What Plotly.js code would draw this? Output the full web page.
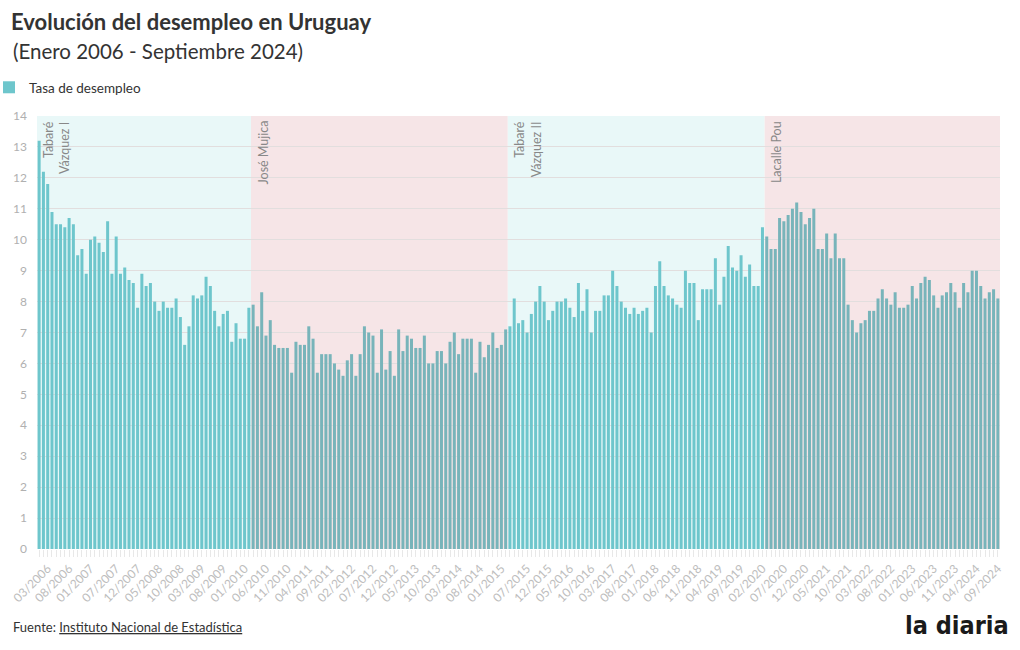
<!DOCTYPE html>
<html><head><meta charset="utf-8">
<script src="https://cdn.plot.ly/plotly-3.0.1.min.js"></script>
<style>html,body{margin:0;padding:0;background:#fff}#chart{width:1020px;height:650px}</style>
</head><body><div id="chart"></div>
<script>
// Monthly categories, January 2006 - September 2024
const months = [
  "01/2006","02/2006","03/2006","04/2006","05/2006","06/2006","07/2006","08/2006","09/2006","10/2006","11/2006","12/2006",
  "01/2007","02/2007","03/2007","04/2007","05/2007","06/2007","07/2007","08/2007","09/2007","10/2007","11/2007","12/2007",
  "01/2008","02/2008","03/2008","04/2008","05/2008","06/2008","07/2008","08/2008","09/2008","10/2008","11/2008","12/2008",
  "01/2009","02/2009","03/2009","04/2009","05/2009","06/2009","07/2009","08/2009","09/2009","10/2009","11/2009","12/2009",
  "01/2010","02/2010","03/2010","04/2010","05/2010","06/2010","07/2010","08/2010","09/2010","10/2010","11/2010","12/2010",
  "01/2011","02/2011","03/2011","04/2011","05/2011","06/2011","07/2011","08/2011","09/2011","10/2011","11/2011","12/2011",
  "01/2012","02/2012","03/2012","04/2012","05/2012","06/2012","07/2012","08/2012","09/2012","10/2012","11/2012","12/2012",
  "01/2013","02/2013","03/2013","04/2013","05/2013","06/2013","07/2013","08/2013","09/2013","10/2013","11/2013","12/2013",
  "01/2014","02/2014","03/2014","04/2014","05/2014","06/2014","07/2014","08/2014","09/2014","10/2014","11/2014","12/2014",
  "01/2015","02/2015","03/2015","04/2015","05/2015","06/2015","07/2015","08/2015","09/2015","10/2015","11/2015","12/2015",
  "01/2016","02/2016","03/2016","04/2016","05/2016","06/2016","07/2016","08/2016","09/2016","10/2016","11/2016","12/2016",
  "01/2017","02/2017","03/2017","04/2017","05/2017","06/2017","07/2017","08/2017","09/2017","10/2017","11/2017","12/2017",
  "01/2018","02/2018","03/2018","04/2018","05/2018","06/2018","07/2018","08/2018","09/2018","10/2018","11/2018","12/2018",
  "01/2019","02/2019","03/2019","04/2019","05/2019","06/2019","07/2019","08/2019","09/2019","10/2019","11/2019","12/2019",
  "01/2020","02/2020","03/2020","04/2020","05/2020","06/2020","07/2020","08/2020","09/2020","10/2020","11/2020","12/2020",
  "01/2021","02/2021","03/2021","04/2021","05/2021","06/2021","07/2021","08/2021","09/2021","10/2021","11/2021","12/2021",
  "01/2022","02/2022","03/2022","04/2022","05/2022","06/2022","07/2022","08/2022","09/2022","10/2022","11/2022","12/2022",
  "01/2023","02/2023","03/2023","04/2023","05/2023","06/2023","07/2023","08/2023","09/2023","10/2023","11/2023","12/2023",
  "01/2024","02/2024","03/2024","04/2024","05/2024","06/2024","07/2024","08/2024","09/2024"
];

// Tasa de desempleo (%)
const unemployment = [
  13.2,12.2,11.8,10.9,10.5,10.5,10.4,10.7,10.5,9.5,9.7,8.9,
  10.0,10.1,9.9,9.6,10.6,8.9,10.1,8.9,9.1,8.7,8.6,7.8,
  8.9,8.5,8.6,8.0,7.7,8.0,7.8,7.8,8.1,7.5,6.6,7.2,
  8.2,8.1,8.2,8.8,8.5,7.7,7.2,7.6,7.7,6.7,7.3,6.8,
  6.8,7.8,7.9,7.2,8.3,6.9,7.4,6.6,6.5,6.5,6.5,5.7,
  6.7,6.6,6.6,7.2,6.8,5.7,6.3,6.3,6.3,6.0,5.8,5.6,
  6.1,6.3,5.6,6.3,7.2,7.0,6.9,5.7,7.1,5.8,6.4,5.6,
  7.1,6.4,6.9,6.8,6.5,6.5,6.9,6.0,6.0,6.4,6.4,6.0,
  6.7,7.0,6.3,6.8,6.8,6.8,5.7,6.7,6.2,6.6,7.0,6.5,
  6.6,7.1,7.2,8.1,7.3,7.4,7.0,7.6,8.0,8.5,8.0,7.4,
  7.7,8.0,8.0,8.1,7.8,7.5,8.6,7.7,8.4,7.0,7.7,7.7,
  8.2,8.2,9.0,8.5,8.0,7.8,7.6,7.8,7.6,7.7,7.8,7.0,
  8.5,9.3,8.5,8.2,8.1,7.9,7.8,9.0,8.6,8.6,7.4,8.4,
  8.4,8.4,9.4,7.9,8.8,9.8,9.1,9.0,9.5,8.8,9.2,8.5,
  8.5,10.4,10.1,9.7,9.7,10.7,10.6,10.8,11.0,11.2,10.9,10.5,
  10.7,11.0,9.7,9.7,10.2,9.4,10.2,9.4,9.4,7.9,7.4,7.0,
  7.3,7.4,7.7,7.7,8.1,8.4,8.1,7.9,8.3,7.8,7.8,7.9,
  8.5,8.1,8.6,8.8,8.7,8.2,7.8,8.2,8.3,8.6,8.3,7.8,
  8.6,8.3,9.0,9.0,8.5,8.1,8.3,8.4,8.1
];

// Labelled ticks on the x axis
const tickLabels = [
  "03/2006","08/2006","01/2007","07/2007","12/2007","05/2008","10/2008","03/2009","08/2009","01/2010",
  "06/2010","11/2010","04/2011","09/2011","02/2012","07/2012","12/2012","05/2013","10/2013","03/2014",
  "08/2014","01/2015","07/2015","12/2015","05/2016","10/2016","03/2017","08/2017","01/2018","06/2018",
  "11/2018","04/2019","09/2019","02/2020","07/2020","12/2020","05/2021","10/2021","03/2022","08/2022",
  "01/2023","06/2023","11/2023","04/2024","09/2024"
];

// Government periods
const periodLabels = ["Tabaré<br>Vázquez I", "José Mujica", "Tabaré<br>Vázquez II", "Lacalle Pou"];
const periodStart  = ["01/2006", "03/2010", "03/2015", "03/2020"];
const periodEnd    = ["02/2010", "02/2015", "02/2020", "09/2024"];

// Texts
const titleText = "Evolución del desempleo en Uruguay";
const subtitleText = "(Enero 2006 - Septiembre 2024)";
const sourceText = "Fuente: <span style=\"text-decoration:underline\">Instituto Nacional de Estadística</span>";
const logoText = "la diaria";

// Styles
const FONT = "Lato, 'Source Sans Pro', 'Noto Sans', sans-serif";
const periodBg  = ["#e9f8f8", "#f6e5e7", "#e9f8f8", "#f6e5e7"];
const periodBar = ["#6ec6cc", "#78b4ba", "#6ec6cc", "#78b4ba"];

const idx = m => months.indexOf(m);
const periodOf = i => periodStart.findIndex((s, p) => i >= idx(s) && i <= idx(periodEnd[p]));
const barColors = months.map((m, i) => periodBar[periodOf(i)]);

const trace = {
  type: "bar",
  x: months,
  y: unemployment,
  name: "Tasa de desempleo",
  marker: { color: barColors, line: { width: 0 } },
  hovertemplate: "%{x}: %{y:.1f}%<extra></extra>"
};

const shapes = periodStart.map((s, p) => ({
  type: "rect", layer: "between",
  xref: "x", yref: "paper",
  x0: idx(s) - 0.5, x1: idx(periodEnd[p]) + 0.5,
  y0: 0, y1: 1,
  fillcolor: periodBg[p], line: { width: 0 }
}));

const annotations = periodStart.map((s, p) => ({
  xref: "x", yref: "paper",
  x: idx(s) - 0.5, y: 1,
  xanchor: "left", yanchor: "top",
  xshift: 2, yshift: -3,
  text: periodLabels[p],
  textangle: -90, align: "right",
  showarrow: false,
  font: { family: FONT, size: 12.5, color: "#888" }
}));

annotations.push({
  xref: "paper", yref: "paper",
  x: (11 - 37) / 963, y: (549 - 51) / 433,
  xanchor: "left", yanchor: "middle",
  text: subtitleText,
  showarrow: false,
  font: { family: FONT, size: 20.5, color: "#333" }
});
annotations.push({
  xref: "paper", yref: "paper",
  x: (11 - 37) / 963, y: (549 - 627) / 433,
  xanchor: "left", yanchor: "middle",
  text: sourceText,
  showarrow: false,
  font: { family: FONT, size: 13, color: "#333" }
});
annotations.push({
  xref: "paper", yref: "paper",
  x: (1011 - 37) / 963, y: (549 - 625) / 433,
  xanchor: "right", yanchor: "middle",
  text: "<b>" + logoText + "</b>",
  showarrow: false,
  font: { family: "'Liberation Sans Narrow', 'DejaVu Sans Condensed', sans-serif", size: 25, color: "#1a1a1a" }
});

const layout = {
  width: 1020, height: 650,
  margin: { l: 37, r: 20, t: 116, b: 101, pad: 0, autoexpand: false },
  paper_bgcolor: "#ffffff", plot_bgcolor: "#ffffff",
  font: { family: FONT, color: "#333" },
  title: {
    text: "<b>" + titleText + "</b>",
    xref: "container", yref: "container",
    x: 11 / 1020, xanchor: "left",
    y: 1 - 15 / 650, yanchor: "top",
    font: { family: FONT, size: 22, color: "#333" }
  },
  bargap: 0.3,
  showlegend: true,
  legend: {
    orientation: "h",
    xref: "paper", yref: "paper",
    x: (-11 - 37) / 963, xanchor: "left",
    y: (549 - 72) / 433, yanchor: "top",
    font: { family: FONT, size: 13.5, color: "#333" },
    bgcolor: "rgba(0,0,0,0)"
  },
  xaxis: {
    type: "category",
    tickmode: "array",
    tickvals: months,
    ticktext: months.map(m => tickLabels.includes(m) ? m : ""),
    tickangle: -45,
    ticks: "outside", ticklen: 7, tickcolor: "#e8e8e8", tickwidth: 1,
    tickfont: { family: FONT, size: 12, color: "#bdbdbd" },
    showgrid: false, showline: false, zeroline: false, fixedrange: true
  },
  yaxis: {
    range: [0, 14], tick0: 0, dtick: 1,
    showgrid: true, gridcolor: "#e2dede", gridwidth: 1,
    zeroline: false, showline: false, ticks: "",
    tickfont: { family: FONT, size: 12, color: "#b0b0b0" },
    ticklabelstandoff: 9,
    fixedrange: true
  },
  shapes: shapes,
  annotations: annotations
};

Plotly.newPlot("chart", [trace], layout, { displayModeBar: false, responsive: false });
</script>
</body></html>
